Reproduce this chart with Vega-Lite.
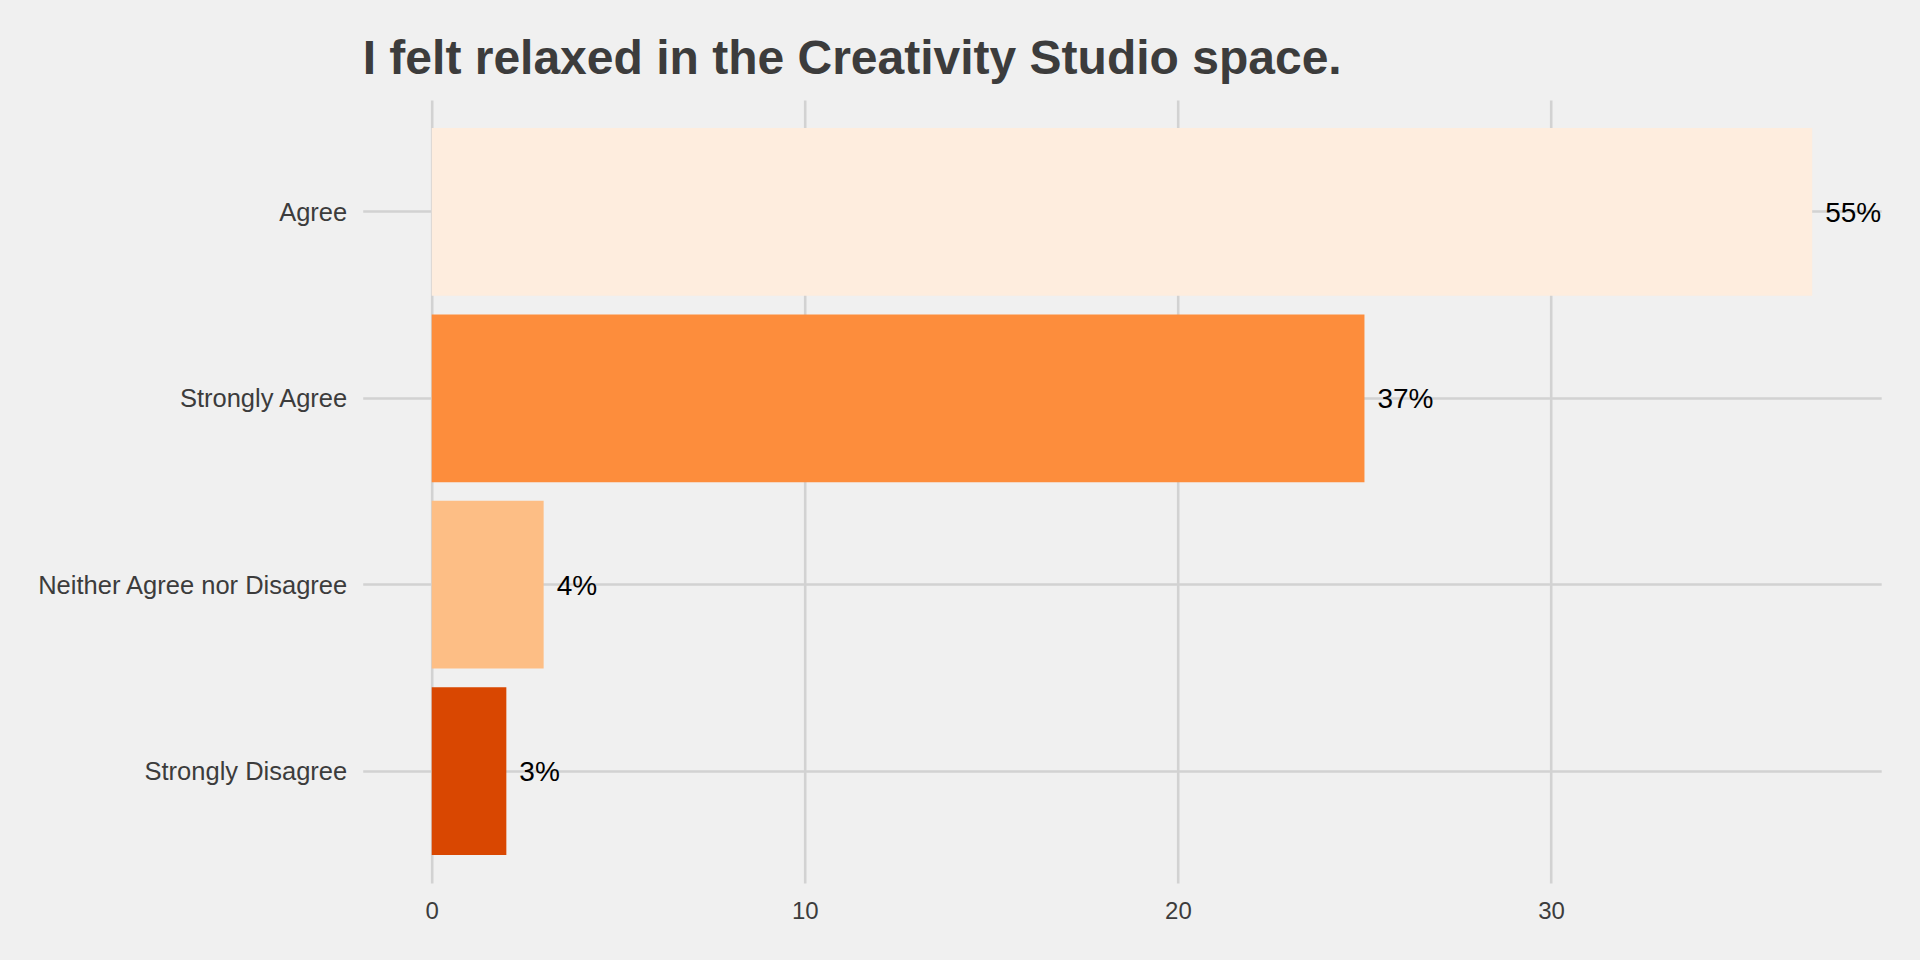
{
  "$schema": "https://vega.github.io/schema/vega-lite/v6.json",
  "width": 1518.5,
  "height": 783,
  "autosize": {"type": "none"},
  "padding": {"left": 362.7, "top": 100, "right": 38.8, "bottom": 77},
  "background": "#F0F0F0",
  "title": {
    "text": "I felt relaxed in the Creativity Studio space.",
    "anchor": "start",
    "frame": "group",
    "font": "Liberation Sans",
    "fontSize": 48,
    "fontWeight": "bold",
    "color": "#3C3C3C",
    "baseline": "alphabetic",
    "offset": 0,
    "dy": 22
  },
  "data": {
    "values": [
      {"response": "Agree", "count": 37, "label": "55%"},
      {"response": "Strongly Agree", "count": 25, "label": "37%"},
      {"response": "Neither Agree nor Disagree", "count": 3, "label": "4%"},
      {"response": "Strongly Disagree", "count": 2, "label": "3%"}
    ]
  },
  "encoding": {
    "y": {
      "field": "response",
      "type": "nominal",
      "sort": ["Agree", "Strongly Agree", "Neither Agree nor Disagree", "Strongly Disagree"],
      "scale": {"paddingInner": 0.1, "paddingOuter": 0.15},
      "axis": {
        "title": null,
        "domain": false,
        "ticks": false,
        "tickSize": 0,
        "grid": true,
        "bandPosition": 0.5,
        "gridColor": "#D2D2D2",
        "gridWidth": 2.6,
        "labelFont": "Liberation Sans",
        "labelFontSize": 25.5,
        "labelColor": "#3C3C3C",
        "labelPadding": 16,
        "labelLimit": 0,
        "labelOffset": 1
      }
    },
    "x": {
      "field": "count",
      "type": "quantitative",
      "scale": {"domain": [-1.85, 38.85], "nice": false, "zero": false},
      "axis": {
        "title": null,
        "domain": false,
        "ticks": false,
        "tickSize": 0,
        "grid": true,
        "values": [0, 10, 20, 30],
        "gridColor": "#D2D2D2",
        "gridWidth": 2.6,
        "labelFont": "Liberation Sans",
        "labelFontSize": 24,
        "labelColor": "#3C3C3C",
        "labelPadding": 16
      }
    }
  },
  "layer": [
    {
      "mark": {"type": "bar"},
      "encoding": {
        "x2": {"datum": 0},
        "color": {
          "field": "response",
          "type": "nominal",
          "legend": null,
          "scale": {
            "domain": ["Agree", "Neither Agree nor Disagree", "Strongly Agree", "Strongly Disagree"],
            "range": ["#FEEDDE", "#FDBE85", "#FD8D3C", "#D94701"]
          }
        }
      }
    },
    {
      "mark": {
        "type": "text",
        "align": "left",
        "baseline": "middle",
        "dx": 13,
        "dy": 2,
        "font": "Liberation Sans",
        "fontSize": 28,
        "color": "#000000"
      },
      "encoding": {
        "text": {"field": "label"}
      }
    }
  ],
  "config": {"view": {"stroke": null}}
}
